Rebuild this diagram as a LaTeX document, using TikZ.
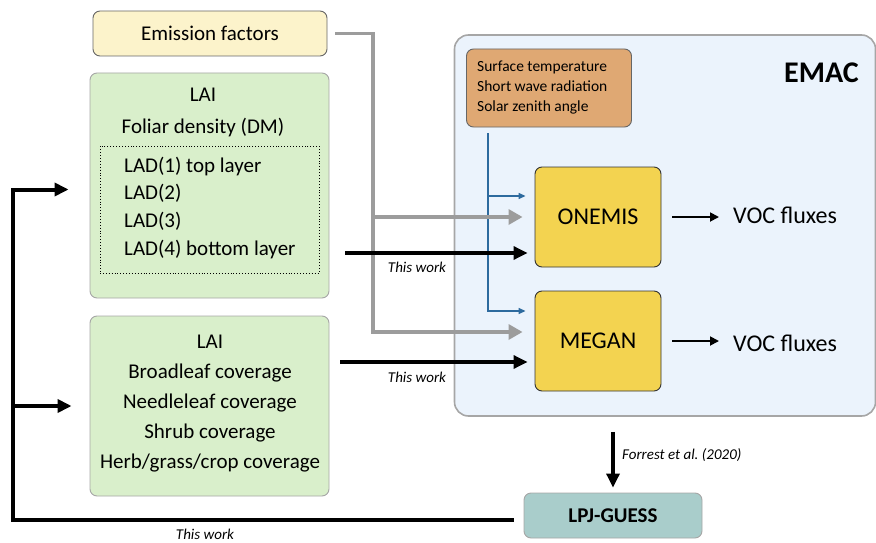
\documentclass[tikz,border=0pt]{standalone}
\usepackage{fontspec}
\setmainfont{Carlito}
\usepackage{tikz}
\usetikzlibrary{arrows.meta}
\usetikzlibrary{positioning}

\definecolor{efyellow}{HTML}{FCF3CB}
\definecolor{veggreen}{HTML}{D9EFCB}
\definecolor{emacblue}{HTML}{EBF3FC}
\definecolor{metorange}{HTML}{DFA873}
\definecolor{modyellow}{HTML}{F3D350}
\definecolor{lpjteal}{HTML}{A9CDCB}
\definecolor{flowblue}{HTML}{2D6A9E}
\definecolor{flowgray}{HTML}{9C9C9C}
\definecolor{edgegray}{HTML}{A6A6A6}

\begin{document}
\begin{tikzpicture}[x=1pt, y=-1pt, every node/.style={inner sep=0pt},
  box/.style={draw=edgegray, line width=0.9pt, rounded corners=7pt},
  txt/.style={font=\fontsize{21}{25}\selectfont},
  small/.style={font=\fontsize{15.5}{18}\selectfont},
  big/.style={font=\fontsize{24}{28}\selectfont},
  worklabel/.style={font=\fontsize{15}{17}\selectfont\itshape},
  workarrow/.style={line width=3.2pt, -{Triangle[length=14pt,width=13pt]}},
  grayarrow/.style={draw=flowgray, line width=3.3pt, -{Triangle[length=14pt,width=15pt]}},
  bluearrow/.style={draw=flowblue, line width=1.4pt, -{Triangle[length=7pt,width=6pt]}},
  vocarrow/.style={line width=1.8pt, -{Triangle[length=9pt,width=9pt]}}]
\useasboundingbox (0,0) rectangle (876,543);

\node[box, draw=black!60, fill=efyellow, minimum width=234, minimum height=45, txt] (ef) at (210,33.5) {Emission factors};

\node[box, fill=veggreen, minimum width=239, minimum height=225] (veg1) at (209.5,185.5) {};
\node[draw, dotted, line width=0.9pt, minimum width=219, minimum height=127] (lad) at (209.5,209.5) {};
\node[txt, anchor=base] (lai1) at (203,102) {LAI};
\node[txt, anchor=base] (fd) at (203,133) {Foliar density (DM)};
\node[txt, anchor=base west] (lad1) at (124,172) {LAD(1) top layer};
\node[txt, anchor=base west] (lad2) at (124,199) {LAD(2)};
\node[txt, anchor=base west] (lad3) at (124,227) {LAD(3)};
\node[txt, anchor=base west] (lad4) at (124,255) {LAD(4) bottom layer};

\node[box, fill=veggreen, minimum width=239, minimum height=180] (veg2) at (209.5,406) {};
\node[txt, anchor=base] (lai2) at (210,348) {LAI};
\node[txt, anchor=base] (bl) at (210,378) {Broadleaf coverage};
\node[txt, anchor=base] (nl) at (210,408) {Needleleaf coverage};
\node[txt, anchor=base] (sh) at (210,438) {Shrub coverage};
\node[txt, anchor=base] (hg) at (210,468) {Herb/grass/crop coverage};

\node[box, line width=1.6pt, rounded corners=14pt, fill=emacblue, minimum width=421, minimum height=381] (emac) at (665,225.5) {};
\node[anchor=base east, font=\fontsize{30}{34}\selectfont\bfseries] (emaclabel) at (859,82) {EMAC};

\node[box, draw=black!60, fill=metorange, minimum width=165, minimum height=78] (met) at (549,88) {};
\node[small, anchor=base west] (st) at (477,72) {Surface temperature};
\node[small, anchor=base west] (sw) at (477,92) {Short wave radiation};
\node[small, anchor=base west] (sz) at (477,111) {Solar zenith angle};

\node[box, draw=black!80, fill=modyellow, minimum width=126, minimum height=100, big] (onemis) at (598,217) {ONEMIS};
\node[box, draw=black!80, fill=modyellow, minimum width=126, minimum height=100, big] (megan) at (598,341) {MEGAN};
\node[big, anchor=base west] (voc1) at (733,223) {VOC fluxes};
\node[big, anchor=base west] (voc2) at (733,351) {VOC fluxes};

\node[box, fill=lpjteal, minimum width=178, minimum height=45, font=\fontsize{21}{25}\selectfont\bfseries] (lpj) at (613,515.5) {LPJ-GUESS};

\draw[vocarrow, shorten <=11pt, shorten >=14pt] (onemis.east) -- (onemis.east -| voc1.west);
\draw[vocarrow, shorten <=11pt, shorten >=14pt] (megan.east) -- (megan.east -| voc2.west);

\coordinate (bt) at (488,133);
\draw[bluearrow, shorten >=9pt] (bt) |- ([yshift=21pt]onemis.west);
\draw[bluearrow, shorten >=9pt] (bt) |- ([yshift=30pt]megan.west);

\coordinate (gx) at (373,33.5);
\draw[grayarrow, shorten >=12pt] ([xshift=8pt]ef.east) -- (gx) |- ([yshift=9pt]megan.west);
\draw[grayarrow, shorten >=12pt] (gx |- onemis.west) -- (onemis.west);

\coordinate (ow) at ([yshift=-36pt]onemis.west);
\coordinate (mw) at ([yshift=-21pt]megan.west);
\draw[workarrow, shorten >=7pt] ([xshift=16pt]veg1.east |- ow) -- (ow);
\draw[workarrow, shorten >=7pt] ([xshift=11pt]veg2.east |- mw) -- (mw);
\node[worklabel] (tw1) at (417,267) {This work};
\node[worklabel] (tw2) at (417,377) {This work};

\draw[workarrow, shorten <=15pt, shorten >=5pt] (lpj.north |- emac.south) -- (lpj.north);
\node[worklabel, anchor=west] (forrest) at (622,455) {Forrest et al.\ (2020)};

\coordinate (fb) at (13,520);
\draw[workarrow, line width=4pt, shorten >=21pt] ([xshift=-10pt]lpj.west |- fb) -- (fb) |- ([yshift=-4pt]veg1.west);
\draw[workarrow, line width=4pt, shorten >=18pt] (fb |- veg2.west) -- (veg2.west);
\node[worklabel, anchor=base] (tw3) at (205,539.5) {This work};
\end{tikzpicture}
\end{document}
